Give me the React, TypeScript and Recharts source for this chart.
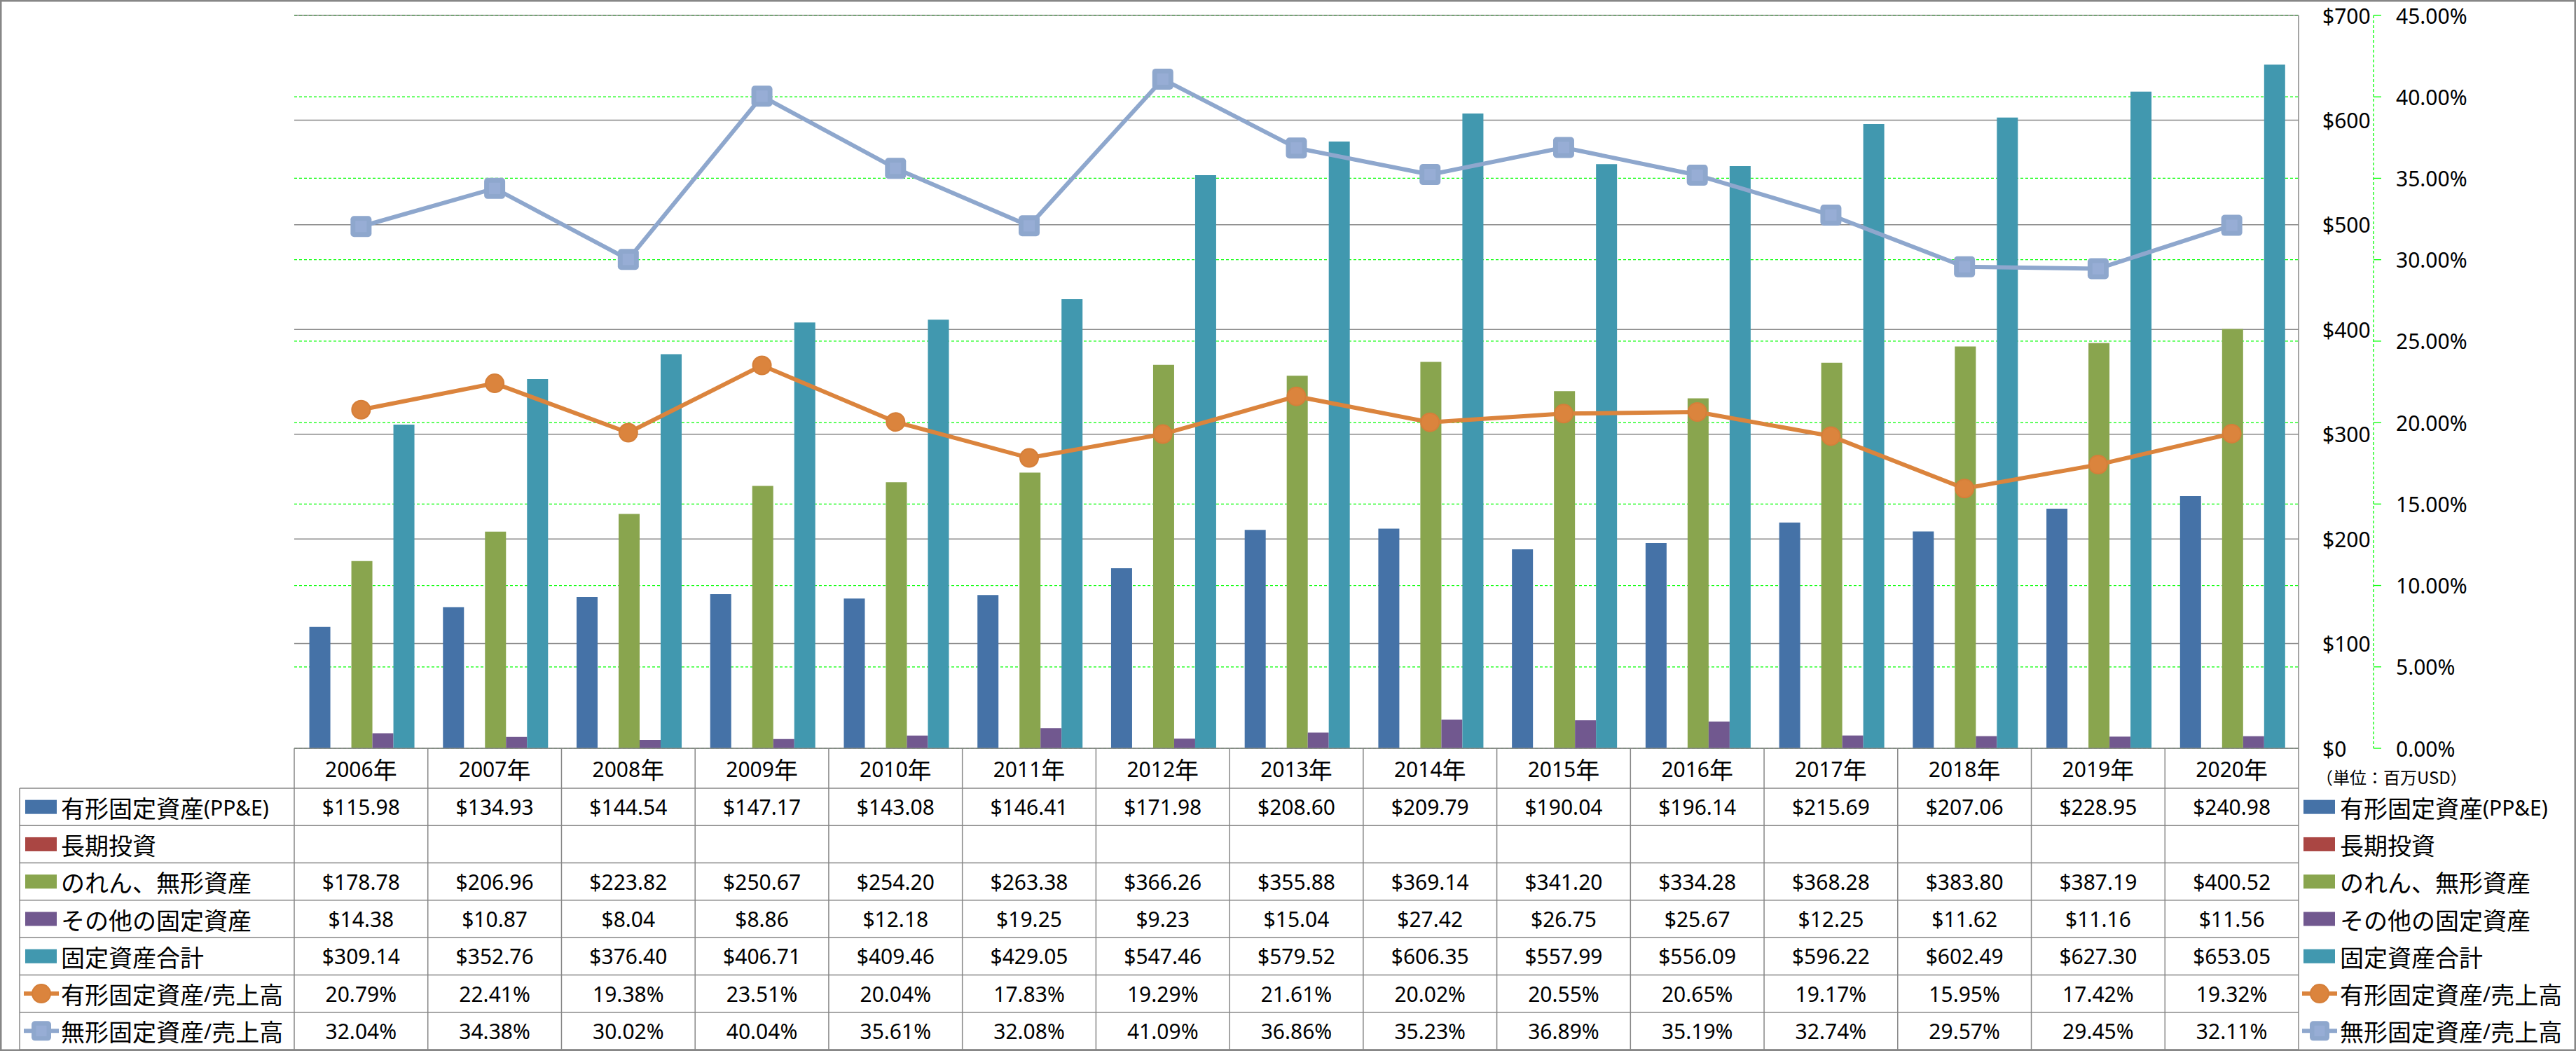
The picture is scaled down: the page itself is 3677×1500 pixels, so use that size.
import React from 'react';
import { ComposedChart, Bar, Line, XAxis, YAxis, CartesianGrid } from 'recharts';

// ---------- data ----------
const years = ['2006年', '2007年', '2008年', '2009年', '2010年', '2011年', '2012年', '2013年', '2014年', '2015年', '2016年', '2017年', '2018年', '2019年', '2020年'];
const ppe = [115.98, 134.93, 144.54, 147.17, 143.08, 146.41, 171.98, 208.6, 209.79, 190.04, 196.14, 215.69, 207.06, 228.95, 240.98];
const longTermInvestment: (number | null)[] = [null, null, null, null, null, null, null, null, null, null, null, null, null, null, null];
const goodwillIntangibles = [178.78, 206.96, 223.82, 250.67, 254.2, 263.38, 366.26, 355.88, 369.14, 341.2, 334.28, 368.28, 383.8, 387.19, 400.52];
const otherFixedAssets = [14.38, 10.87, 8.04, 8.86, 12.18, 19.25, 9.23, 15.04, 27.42, 26.75, 25.67, 12.25, 11.62, 11.16, 11.56];
const totalFixedAssets = [309.14, 352.76, 376.4, 406.71, 409.46, 429.05, 547.46, 579.52, 606.35, 557.99, 556.09, 596.22, 602.49, 627.3, 653.05];
const tangibleToSales = [20.79, 22.41, 19.38, 23.51, 20.04, 17.83, 19.29, 21.61, 20.02, 20.55, 20.65, 19.17, 15.95, 17.42, 19.32];
const intangibleToSales = [32.04, 34.38, 30.02, 40.04, 35.61, 32.08, 41.09, 36.86, 35.23, 36.89, 35.19, 32.74, 29.57, 29.45, 32.11];

const usdTicks = [0, 100, 200, 300, 400, 500, 600, 700];
const pctTicks = [0, 5, 10, 15, 20, 25, 30, 35, 40, 45];
const unitLabel = '（単位：百万USD）';

// ---------- styles / layout ----------
const W = 3677;
const H = 1500;
const M_TOP = 22;
const M_LEFT = 420;
const M_BOTTOM = 2;
const XAXIS_H = 430;
const USD_W = 107;
const PCT_W = 289;
const PLOT_RIGHT = W - USD_W - PCT_W;
const PLOT_BOTTOM = H - M_BOTTOM - XAXIS_H;
const COL_W = (PLOT_RIGHT - M_LEFT) / years.length;
const HEADER_H = 57;
const ROW_H = (H - M_BOTTOM - PLOT_BOTTOM - HEADER_H) / 7;
const TABLE_LEFT = 28;

const USD_ID = 'a1_usd';
const PCT_ID = 'b2_pct';

const GRID_GRAY = '#878787';
const GREEN = '#00FF00';
const C_PPE = '#4572A7';
const C_LTI = '#AA4643';
const C_GW = '#89A54E';
const C_OTHER = '#71588F';
const C_TOTAL = '#4198AF';
const C_ORANGE = '#DB843D';
const C_LBLUE = '#8EA7CD';

const NUM_FONT = '"Noto Sans", "Noto Sans CJK JP", sans-serif';
const CJK_FONT = '"Noto Sans CJK JP", sans-serif';

const usd = (v: number) => `$${v.toFixed(2)}`;
const pct = (v: number) => `${v.toFixed(2)}%`;

type RowDef = { name: string; values: (number | null)[]; color: string; kind: 'bar' | 'circle' | 'square'; fmt: (v: number) => string };
const rows: RowDef[] = [
  { name: '有形固定資産(PP&E)', values: ppe, color: C_PPE, kind: 'bar', fmt: usd },
  { name: '長期投資', values: longTermInvestment, color: C_LTI, kind: 'bar', fmt: usd },
  { name: 'のれん、無形資産', values: goodwillIntangibles, color: C_GW, kind: 'bar', fmt: usd },
  { name: 'その他の固定資産', values: otherFixedAssets, color: C_OTHER, kind: 'bar', fmt: usd },
  { name: '固定資産合計', values: totalFixedAssets, color: C_TOTAL, kind: 'bar', fmt: usd },
  { name: '有形固定資産/売上高', values: tangibleToSales, color: C_ORANGE, kind: 'circle', fmt: pct },
  { name: '無形固定資産/売上高', values: intangibleToSales, color: C_LBLUE, kind: 'square', fmt: pct },
];

const data = years.map((y, i) => ({
  year: y,
  ppe: ppe[i],
  lti: longTermInvestment[i],
  gw: goodwillIntangibles[i],
  other: otherFixedAssets[i],
  total: totalFixedAssets[i],
  tr: tangibleToSales[i],
  ir: intangibleToSales[i],
}));

// ---------- helpers ----------
const CJK_RE = /[\u3000-\u30ff\u3400-\u9fff\uff00-\uffef]/;
function splitRuns(s: string) {
  const out: { t: string; cjk: boolean }[] = [];
  for (const ch of s) {
    const c = CJK_RE.test(ch);
    if (out.length && out[out.length - 1].cjk === c) out[out.length - 1].t += ch;
    else out.push({ t: ch, cjk: c });
  }
  return out;
}

const Mixed = ({ x, y, text, anchor = 'start' }: { x: number; y: number; text: string; anchor?: string }) => (
  <text x={x} y={y} textAnchor={anchor as any} dominantBaseline="central" fill="#000">
    {splitRuns(text).map((r, i) => (
      <tspan key={i} fontSize={r.cjk ? 34 : 30} fontFamily={r.cjk ? CJK_FONT : NUM_FONT}>
        {r.t}
      </tspan>
    ))}
  </text>
);

const CircleMark = ({ cx, cy, r = 13 }: { cx: number; cy: number; r?: number }) => (
  <circle cx={cx} cy={cy} r={r} fill={C_ORANGE} stroke="#D57F39" strokeWidth={2} />
);
const SquareMark = ({ cx, cy, s = 30 }: { cx: number; cy: number; s?: number }) => (
  <g>
    <rect x={cx - s / 2} y={cy - s / 2} width={s} height={s} rx={5} ry={5} fill={C_LBLUE} />
    <rect x={cx - s * 0.27} y={cy - s * 0.27} width={s * 0.54} height={s * 0.54} fill="#97ADD5" />
  </g>
);

const OrangeDot = (p: any) => (p.cx == null || p.cy == null ? <g key={p.key} /> : <g key={p.key}><CircleMark cx={p.cx} cy={p.cy} /></g>);
const BlueDot = (p: any) => (p.cx == null || p.cy == null ? <g key={p.key} /> : <g key={p.key}><SquareMark cx={p.cx} cy={p.cy} /></g>);

const LegendKey = ({ x, cy, row }: { x: number; cy: number; row: RowDef }) => {
  if (row.kind === 'bar') return <rect x={x} y={cy - 10} width={45} height={20} fill={row.color} />;
  const mid = x + 23;
  return (
    <g>
      <line x1={x - 2} y1={cy} x2={x + 48} y2={cy} stroke={row.color} strokeWidth={6} />
      {row.kind === 'circle' ? <CircleMark cx={mid} cy={cy} r={13} /> : <SquareMark cx={mid} cy={cy} s={28} />}
    </g>
  );
};

// ---------- axis ticks ----------
const TableTick = (props: any) => {
  const { x, y, payload } = props;
  const i = payload.index;
  const half = COL_W / 2;
  const tableH = HEADER_H + ROW_H * 7;
  return (
    <g>
      <line x1={x - half} y1={y} x2={x - half} y2={y + tableH} stroke={GRID_GRAY} strokeWidth={1.5} />
      {i === years.length - 1 && <line x1={x + half} y1={y} x2={x + half} y2={y + tableH} stroke={GRID_GRAY} strokeWidth={1.5} />}
      <Mixed x={x} y={y + HEADER_H / 2} text={String(payload.value)} anchor="middle" />
      {rows.map((r, k) => {
        const v = r.values[i];
        if (v == null) return null;
        return (
          <text key={k} x={x} y={y + HEADER_H + ROW_H * (k + 0.5)} textAnchor="middle" dominantBaseline="central" fontSize={30} fontFamily={NUM_FONT} fill="#000">
            {r.fmt(v)}
          </text>
        );
      })}
    </g>
  );
};

const UsdTick = (props: any) => (
  <text x={props.x} y={props.y} textAnchor="start" dominantBaseline="central" fontSize={30} fontFamily={NUM_FONT} fill="#000">
    {`$${props.payload.value}`}
  </text>
);
const PctTick = (props: any) => (
  <text x={props.x} y={props.y} textAnchor="start" dominantBaseline="central" fontSize={30} fontFamily={NUM_FONT} fill="#000">
    {`${Number(props.payload.value).toFixed(2)}%`}
  </text>
);

// ---------- overlay (table frame + legends) ----------
const Overlay = () => {
  const lines: number[] = [];
  for (let k = 0; k <= 7; k++) lines.push(PLOT_BOTTOM + HEADER_H + ROW_H * k);
  return (
    <svg width={W} height={H} style={{ position: 'absolute', left: 0, top: 0, pointerEvents: 'none' }}>
      {lines.map((ly, k) => (
        <line key={k} x1={TABLE_LEFT} y1={ly} x2={PLOT_RIGHT} y2={ly} stroke={GRID_GRAY} strokeWidth={1.5} />
      ))}
      <line x1={TABLE_LEFT} y1={PLOT_BOTTOM + HEADER_H} x2={TABLE_LEFT} y2={H} stroke={GRID_GRAY} strokeWidth={1.5} />
      {rows.map((r, k) => {
        const cy = PLOT_BOTTOM + HEADER_H + ROW_H * (k + 0.5);
        return (
          <g key={k}>
            <LegendKey x={36} cy={cy} row={r} />
            <Mixed x={87} y={cy} text={r.name} />
            <LegendKey x={3288} cy={cy} row={r} />
            <Mixed x={3340} y={cy} text={r.name} />
          </g>
        );
      })}
      <text x={3306} y={1108} dominantBaseline="central" fontSize={24} fontFamily={CJK_FONT} fill="#000">
        {unitLabel}
      </text>
      <rect x={1.25} y={1.25} width={W - 2.5} height={H - 2.5} fill="none" stroke={GRID_GRAY} strokeWidth={2.5} />
    </svg>
  );
};

export default function App() {
  return (
    <div style={{ position: 'absolute', left: 0, top: 0, width: W, height: H, background: '#fff', overflow: 'hidden' }}>
      <ComposedChart
        width={W}
        height={H}
        data={data}
        margin={{ top: M_TOP, right: 0, bottom: M_BOTTOM, left: M_LEFT }}
        barCategoryGap="11.3%"
        barGap={0}
      >
        <CartesianGrid yAxisId={PCT_ID} vertical={false} stroke={GREEN} strokeDasharray="4 3" strokeWidth={1.3} />
        <CartesianGrid yAxisId={USD_ID} vertical={false} stroke={GRID_GRAY} strokeWidth={1.5} />
        <XAxis
          dataKey="year"
          height={XAXIS_H}
          interval={0}
          tickSize={0}
          tickMargin={0}
          tickLine={false}
          axisLine={{ stroke: GRID_GRAY, strokeWidth: 1.5 }}
          tick={<TableTick />}
        />
        <YAxis
          yAxisId={USD_ID}
          orientation="right"
          domain={[0, 700]}
          ticks={usdTicks}
          interval={0}
          width={USD_W}
          axisLine={{ stroke: GRID_GRAY, strokeWidth: 1.5 }}
          tickLine={false}
          tickSize={0}
          tickMargin={34}
          tick={<UsdTick />}
        />
        <YAxis
          yAxisId={PCT_ID}
          orientation="right"
          domain={[0, 45]}
          ticks={pctTicks}
          interval={0}
          width={PCT_W}
          axisLine={{ stroke: GREEN, strokeDasharray: '4 3', strokeWidth: 1.3 }}
          tickLine={{ stroke: GREEN, strokeWidth: 1.3 }}
          tickSize={11}
          tickMargin={21}
          tick={<PctTick />}
        />
        <Bar yAxisId={USD_ID} dataKey="ppe" name={rows[0].name} fill={C_PPE} isAnimationActive={false} />
        <Bar yAxisId={USD_ID} dataKey="lti" name={rows[1].name} fill={C_LTI} isAnimationActive={false} />
        <Bar yAxisId={USD_ID} dataKey="gw" name={rows[2].name} fill={C_GW} isAnimationActive={false} />
        <Bar yAxisId={USD_ID} dataKey="other" name={rows[3].name} fill={C_OTHER} isAnimationActive={false} />
        <Bar yAxisId={USD_ID} dataKey="total" name={rows[4].name} fill={C_TOTAL} isAnimationActive={false} />
        <Line yAxisId={PCT_ID} dataKey="tr" name={rows[5].name} stroke={C_ORANGE} strokeWidth={6} dot={OrangeDot} activeDot={false} isAnimationActive={false} />
        <Line yAxisId={PCT_ID} dataKey="ir" name={rows[6].name} stroke={C_LBLUE} strokeWidth={6} dot={BlueDot} activeDot={false} isAnimationActive={false} />
      </ComposedChart>
      <Overlay />
    </div>
  );
}
